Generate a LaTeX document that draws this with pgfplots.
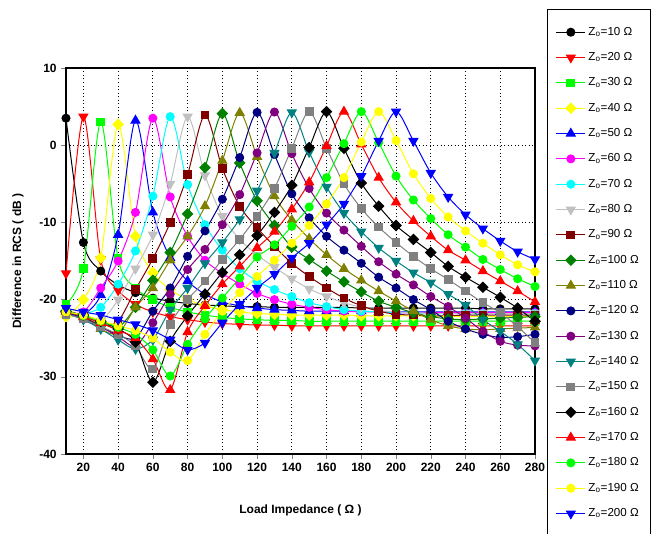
\documentclass[border=0pt]{standalone}
\usepackage{fontspec}
\setmainfont{Liberation Sans}
\usepackage{pgfplots}
\pgfplotsset{compat=1.18}

\definecolor{cRed}{RGB}{255,0,0}
\definecolor{cGreen}{RGB}{0,255,0}
\definecolor{cYellow}{RGB}{255,255,0}
\definecolor{cBlue}{RGB}{0,0,255}
\definecolor{cMagenta}{RGB}{255,0,255}
\definecolor{cCyan}{RGB}{0,255,255}
\definecolor{cSilver}{RGB}{192,192,192}
\definecolor{cMaroon}{RGB}{128,0,0}
\definecolor{cDGreen}{RGB}{0,128,0}
\definecolor{cOlive}{RGB}{128,128,0}
\definecolor{cNavy}{RGB}{0,0,128}
\definecolor{cPurple}{RGB}{128,0,128}
\definecolor{cTeal}{RGB}{0,128,128}
\definecolor{cGray}{RGB}{128,128,128}

\pgfplotsset{
  mC/.style={mark=*, mark size=3pt, mark options={solid}},
  mS/.style={mark=square*, mark size=2.9pt, mark options={solid}},
  mD/.style={mark=square*, mark size=2.7pt, mark options={solid,rotate=45}},
  mU/.style={mark=triangle*, mark size=3.8pt, mark options={solid}},
  mV/.style={mark=triangle*, mark size=3.8pt, mark options={solid,rotate=180}},
}

\begin{document}
\begin{tikzpicture}
\useasboundingbox (-49.5pt,-59.25pt) rectangle (439.5pt,340.5pt);
\begin{axis}[
  at={(0,0)}, anchor=south west,
  scale only axis, width=351.75pt, height=289.5pt,
  xmin=10, xmax=280, ymin=-40, ymax=10,
  xtick={20,40,...,280}, ytick={-40,-30,...,10},
  tick pos=left, tick align=outside, major tick length=3.5pt,
  /pgf/number format/assume math mode=true,
  tick label style={font=\bfseries\fontsize{9}{10}\selectfont},
  grid=major,
  grid style={black, line width=0.6pt, dash pattern=on 0.75pt off 1.9pt},
  axis line style={line width=0.8pt},
  xlabel={Load Impedance ( Ω )},
  ylabel={Difference in RCS ( dB )},
  label style={font=\bfseries\fontsize{9}{10}\selectfont},
  xlabel style={at={(axis description cs:0.5,-0.145)}, anchor=center},
  ylabel style={at={(axis description cs:-0.1023,0.5)}, anchor=center},
  every axis plot/.append style={line width=0.75pt, smooth, tension=0.5},
  legend image code/.code={\draw[mark repeat=2,mark phase=2,#1] plot coordinates {(0pt,0pt) (10.9pt,0pt) (21.75pt,0pt)};},
  legend style={at={(axis description cs:1,1)}, anchor=north west,
    xshift=8.8pt, yshift=44pt, draw=black, line width=0.6pt,
    font=\fontsize{8.7}{10}\selectfont,
    inner xsep=6.5pt, inner ysep=11.1pt, row sep=7.5pt,
    cells={anchor=west, inner ysep=0pt, text height=6pt, text depth=2pt}},
  legend cell align=left,
]
\addplot[black, mC] coordinates {(10,3.5)(20,-12.6)(30,-16.3)(40,-18.1)(50,-19.1)(60,-19.8)(70,-20.2)(80,-20.5)(90,-20.7)(100,-20.8)(110,-20.9)(120,-20.9)(130,-21.0)(140,-21.0)(150,-21.0)(160,-21.0)(170,-21.0)(180,-21.1)(190,-21.1)(200,-21.1)(210,-21.1)(220,-21.1)(230,-21.1)(240,-21.1)(250,-21.2)(260,-21.2)(270,-21.2)(280,-21.2)};
\addlegendentry{Z\textsubscript{o}=10 Ω}
\addplot[cRed, mV] coordinates {(10,-16.6)(20,3.7)(30,-14.8)(40,-18.8)(50,-20.6)(60,-21.6)(70,-22.2)(80,-22.6)(90,-22.9)(100,-23.1)(110,-23.2)(120,-23.3)(130,-23.3)(140,-23.4)(150,-23.4)(160,-23.4)(170,-23.4)(180,-23.4)(190,-23.4)(200,-23.4)(210,-23.4)(220,-23.4)(230,-23.4)(240,-23.4)(250,-23.4)(260,-23.4)(270,-23.4)(280,-23.4)};
\addlegendentry{Z\textsubscript{o}=20 Ω}
\addplot[cGreen, mS] coordinates {(10,-20.6)(20,-16.0)(30,3.0)(40,-14.7)(50,-18.5)(60,-20.0)(70,-21.0)(80,-21.6)(90,-22.0)(100,-22.3)(110,-22.5)(120,-22.6)(130,-22.7)(140,-22.7)(150,-22.8)(160,-22.8)(170,-22.8)(180,-22.8)(190,-22.8)(200,-22.8)(210,-22.8)(220,-22.8)(230,-22.8)(240,-22.8)(250,-22.8)(260,-22.8)(270,-22.8)(280,-22.8)};
\addlegendentry{Z\textsubscript{o}=30 Ω}
\addplot[cYellow, mD] coordinates {(10,-22.2)(20,-20.0)(30,-14.6)(40,2.7)(50,-11.8)(60,-16.5)(70,-18.7)(80,-20.0)(90,-20.8)(100,-21.3)(110,-21.6)(120,-21.8)(130,-21.9)(140,-22.0)(150,-22.0)(160,-22.0)(170,-22.0)(180,-22.1)(190,-22.1)(200,-22.1)(210,-22.1)(220,-22.1)(230,-22.2)(240,-22.2)(250,-22.2)(260,-22.2)(270,-22.2)(280,-22.2)};
\addlegendentry{Z\textsubscript{o}=40 Ω}
\addplot[cBlue, mU] coordinates {(10,-21.6)(20,-21.9)(30,-19.4)(40,-11.6)(50,3.2)(60,-8.7)(70,-14.6)(80,-17.6)(90,-19.3)(100,-20.3)(110,-20.8)(120,-21.1)(130,-21.3)(140,-21.4)(150,-21.5)(160,-21.5)(170,-21.5)(180,-21.5)(190,-21.6)(200,-21.6)(210,-21.6)(220,-21.6)(230,-21.6)(240,-21.6)(250,-21.6)(260,-21.6)(270,-21.6)(280,-21.6)};
\addlegendentry{Z\textsubscript{o}=50 Ω}
\addplot[cMagenta, mC] coordinates {(10,-21.6)(20,-21.6)(30,-18.5)(40,-15.0)(50,-8.7)(60,3.5)(70,-6.7)(80,-11.8)(90,-14.9)(100,-16.6)(110,-18.0)(120,-19.2)(130,-20.0)(140,-20.6)(150,-21.0)(160,-21.3)(170,-21.5)(180,-21.6)(190,-21.6)(200,-21.7)(210,-21.7)(220,-21.7)(230,-21.7)(240,-21.7)(250,-21.7)(260,-21.7)(270,-21.7)(280,-21.7)};
\addlegendentry{Z\textsubscript{o}=60 Ω}
\addplot[cCyan, mC] coordinates {(10,-21.7)(20,-21.8)(30,-21.0)(40,-18.0)(50,-13.7)(60,-6.6)(70,3.7)(80,-5.1)(90,-10.3)(100,-13.6)(110,-16.0)(120,-17.6)(130,-18.7)(140,-19.6)(150,-20.4)(160,-20.9)(170,-21.3)(180,-21.5)(190,-21.6)(200,-21.7)(210,-21.7)(220,-21.8)(230,-21.8)(240,-21.8)(250,-21.8)(260,-21.8)(270,-21.8)(280,-21.8)};
\addlegendentry{Z\textsubscript{o}=70 Ω}
\addplot[cSilver, mV] coordinates {(10,-21.8)(20,-22.5)(30,-22.8)(40,-20.0)(50,-16.0)(60,-11.6)(70,-5.0)(80,3.7)(90,-3.9)(100,-9.2)(110,-12.2)(120,-14.2)(130,-15.8)(140,-17.3)(150,-18.6)(160,-19.6)(170,-20.4)(180,-21.0)(190,-21.4)(200,-21.6)(210,-21.7)(220,-21.8)(230,-21.8)(240,-21.8)(250,-21.8)(260,-21.8)(270,-21.8)(280,-21.8)};
\addlegendentry{Z\textsubscript{o}=80 Ω}
\addplot[cMaroon, mS] coordinates {(10,-21.5)(20,-22.2)(30,-23.3)(40,-22.8)(50,-18.7)(60,-14.7)(70,-10.0)(80,-3.8)(90,3.9)(100,-3.0)(110,-7.9)(120,-10.7)(130,-13.1)(140,-15.3)(150,-17.0)(160,-18.5)(170,-19.8)(180,-20.8)(190,-21.5)(200,-21.9)(210,-22.0)(220,-22.1)(230,-22.1)(240,-22.0)(250,-22.0)(260,-22.0)(270,-22.0)(280,-22.0)};
\addlegendentry{Z\textsubscript{o}=90 Ω}
\addplot[cDGreen, mD] coordinates {(10,-21.6)(20,-22.2)(30,-23.0)(40,-23.6)(50,-21.0)(60,-17.5)(70,-13.9)(80,-8.9)(90,-2.9)(100,4.1)(110,-2.3)(120,-7.2)(130,-10.4)(140,-13.2)(150,-14.8)(160,-16.3)(170,-17.7)(180,-19.0)(190,-20.2)(200,-21.0)(210,-21.7)(220,-22.2)(230,-22.5)(240,-22.6)(250,-22.5)(260,-22.4)(270,-22.3)(280,-22.2)};
\addlegendentry{Z\textsubscript{o}=100 Ω}
\addplot[cOlive, mU] coordinates {(10,-21.6)(20,-22.3)(30,-23.8)(40,-24.4)(50,-21.0)(60,-18.5)(70,-14.9)(80,-11.8)(90,-7.9)(100,-2.0)(110,4.2)(120,-1.5)(130,-6.6)(140,-9.7)(150,-12.1)(160,-14.2)(170,-16.0)(180,-17.5)(190,-18.9)(200,-20.2)(210,-21.5)(220,-22.6)(230,-23.4)(240,-23.8)(250,-23.9)(260,-23.8)(270,-23.7)(280,-23.6)};
\addlegendentry{Z\textsubscript{o}=110 Ω}
\addplot[cNavy, mC] coordinates {(10,-21.7)(20,-22.4)(30,-23.5)(40,-24.6)(50,-25.0)(60,-21.5)(70,-18.5)(80,-14.4)(90,-11.1)(100,-7.0)(110,-1.6)(120,4.25)(130,-1.2)(140,-6.3)(150,-9.4)(160,-11.8)(170,-13.6)(180,-15.3)(190,-17.1)(200,-18.5)(210,-20.0)(220,-21.3)(230,-22.8)(240,-23.8)(250,-24.5)(260,-24.9)(270,-24.8)(280,-24.5)};
\addlegendentry{Z\textsubscript{o}=120 Ω}
\addplot[cPurple, mC] coordinates {(10,-21.7)(20,-22.5)(30,-23.5)(40,-24.8)(50,-26.0)(60,-23.0)(70,-19.3)(80,-16.1)(90,-13.5)(100,-10.3)(110,-6.4)(120,-1.0)(130,4.3)(140,-1.1)(150,-5.6)(160,-8.8)(170,-11.0)(180,-13.1)(190,-15.1)(200,-16.7)(210,-18.1)(220,-19.6)(230,-20.9)(240,-22.4)(250,-24.1)(260,-25.4)(270,-25.9)(280,-26.0)};
\addlegendentry{Z\textsubscript{o}=130 Ω}
\addplot[cTeal, mV] coordinates {(10,-21.8)(20,-22.6)(30,-23.8)(40,-25.2)(50,-26.4)(60,-25.2)(70,-21.3)(80,-18.5)(90,-15.3)(100,-12.6)(110,-9.6)(120,-5.9)(130,-1.0)(140,4.25)(150,-0.9)(160,-5.4)(170,-8.8)(180,-11.2)(190,-13.3)(200,-15.0)(210,-16.5)(220,-17.8)(230,-19.3)(240,-20.7)(250,-22.6)(260,-24.1)(270,-25.8)(280,-27.9)};
\addlegendentry{Z\textsubscript{o}=140 Ω}
\addplot[cGray, mS] coordinates {(10,-21.9)(20,-22.5)(30,-23.5)(40,-24.5)(50,-26.0)(60,-29.0)(70,-23.2)(80,-20.0)(90,-17.6)(100,-14.8)(110,-12.2)(120,-9.2)(130,-5.6)(140,-0.4)(150,4.35)(160,-0.4)(170,-5.0)(180,-8.2)(190,-10.6)(200,-12.6)(210,-14.4)(220,-16.0)(230,-17.4)(240,-18.9)(250,-20.4)(260,-21.7)(270,-23.5)(280,-25.6)};
\addlegendentry{Z\textsubscript{o}=150 Ω}
\addplot[black, mD] coordinates {(10,-21.5)(20,-22.0)(30,-22.8)(40,-23.8)(50,-25.5)(60,-30.7)(70,-25.4)(80,-22.1)(90,-19.3)(100,-16.5)(110,-14.2)(120,-11.7)(130,-8.7)(140,-5.2)(150,-0.3)(160,4.35)(170,-0.4)(180,-4.9)(190,-7.9)(200,-10.4)(210,-12.2)(220,-13.9)(230,-15.7)(240,-17.1)(250,-18.4)(260,-19.7)(270,-21.1)(280,-22.8)};
\addlegendentry{Z\textsubscript{o}=160 Ω}
\addplot[cRed, mU] coordinates {(10,-21.5)(20,-22.2)(30,-23.0)(40,-24.0)(50,-25.0)(60,-27.7)(70,-31.7)(80,-24.2)(90,-20.8)(100,-18.0)(110,-15.7)(120,-13.3)(130,-11.2)(140,-8.3)(150,-4.8)(160,-0.1)(170,4.35)(180,0.1)(190,-4.2)(200,-7.4)(210,-9.8)(220,-11.8)(230,-13.6)(240,-14.9)(250,-16.3)(260,-17.6)(270,-18.9)(280,-20.3)};
\addlegendentry{Z\textsubscript{o}=170 Ω}
\addplot[cGreen, mC] coordinates {(10,-21.5)(20,-22.1)(30,-22.8)(40,-23.6)(50,-24.5)(60,-26.5)(70,-29.9)(80,-25.8)(90,-22.5)(100,-19.8)(110,-17.2)(120,-14.5)(130,-12.9)(140,-10.5)(150,-8.0)(160,-4.2)(170,0.2)(180,4.35)(190,0.35)(200,-4.0)(210,-7.1)(220,-9.5)(230,-11.6)(240,-13.2)(250,-14.8)(260,-16.1)(270,-17.3)(280,-18.3)};
\addlegendentry{Z\textsubscript{o}=180 Ω}
\addplot[cYellow, mC] coordinates {(10,-21.6)(20,-22.0)(30,-22.7)(40,-23.4)(50,-24.0)(60,-25.0)(70,-26.8)(80,-27.9)(90,-24.5)(100,-21.5)(110,-19.1)(120,-17.0)(130,-14.9)(140,-12.7)(150,-10.4)(160,-7.6)(170,-4.2)(180,0.4)(190,4.35)(200,0.6)(210,-3.7)(220,-6.9)(230,-9.3)(240,-11.1)(250,-12.7)(260,-14.2)(270,-15.5)(280,-16.4)};
\addlegendentry{Z\textsubscript{o}=190 Ω}
\addplot[cBlue, mV] coordinates {(10,-21.1)(20,-21.6)(30,-22.0)(40,-22.6)(50,-23.2)(60,-24.0)(70,-25.2)(80,-26.5)(90,-25.6)(100,-23.0)(110,-20.6)(120,-18.5)(130,-16.7)(140,-14.6)(150,-12.7)(160,-10.3)(170,-7.6)(180,-4.0)(190,0.55)(200,4.35)(210,0.55)(220,-3.6)(230,-6.7)(240,-9.0)(250,-10.8)(260,-12.4)(270,-13.8)(280,-14.8)};
\addlegendentry{Z\textsubscript{o}=200 Ω}
\end{axis}
\end{tikzpicture}
\end{document}
